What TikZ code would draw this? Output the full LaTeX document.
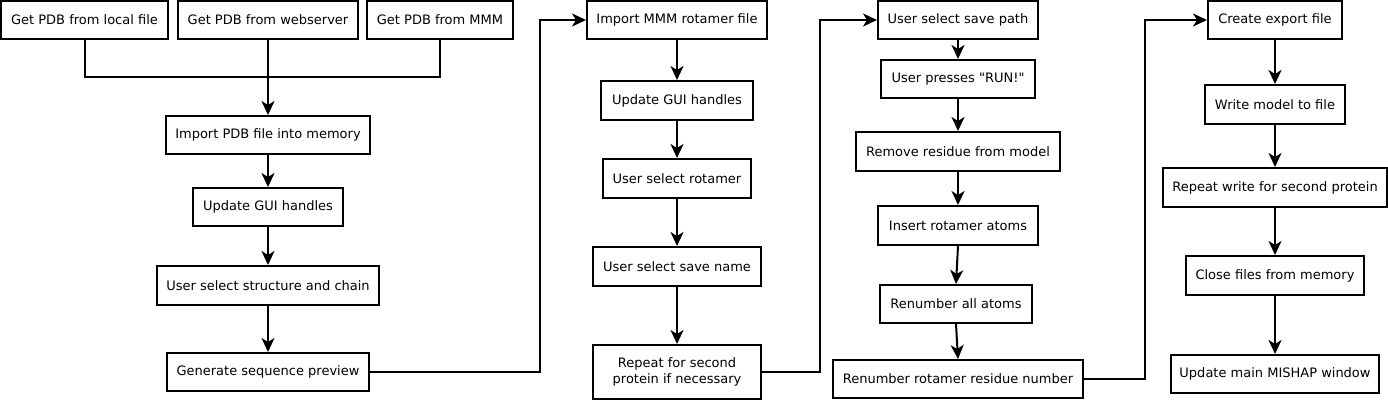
\documentclass[tikz,border=0pt]{standalone}
\usepackage{fontspec}
\setmainfont[Ligatures=TeXOff]{DejaVu Sans}
\usetikzlibrary{arrows.meta}
\begin{document}
\begin{tikzpicture}[x=1pt,y=-1pt,
  box/.style={draw,line width=2pt,fill=white,minimum height=38pt,inner sep=0pt,align=center,font=\fontsize{13}{15.5}\selectfont},
  conn/.style={line width=2pt},
  arr/.style={conn,-{Stealth[length=14pt,width=13pt,inset=4pt]}}]
\useasboundingbox (0,0) rectangle (1388,400);
% column 1
\node[box,minimum width=167pt] (src1) at (84.5,20) {Get PDB from local file};
\node[box,minimum width=180pt] (src2) at (268,20) {Get PDB from webserver};
\node[box,minimum width=146pt] (src3) at (440,20) {Get PDB from MMM};
\node[box,minimum width=204pt] (imp) at (268,135) {Import PDB file into memory};
\node[box,minimum width=150pt] (gui1) at (268,207) {Update GUI handles};
\node[box,minimum width=222pt,minimum height=39pt] (usc) at (268,285.5) {User select structure and chain};
\node[box,minimum width=202pt] (gen) at (268,372) {Generate sequence preview};
% column 2
\node[box,minimum width=180pt] (mmm) at (677,20) {Import MMM rotamer file};
\node[box,minimum width=152pt,minimum height=39pt] (gui2) at (677,100.5) {Update GUI handles};
\node[box,minimum width=148pt,minimum height=39pt] (rot) at (677,178.5) {User select rotamer};
\node[box,minimum width=168pt,minimum height=39pt] (sname) at (677,266.5) {User select save name};
\node[box,minimum width=168pt,minimum height=54pt] (rep) at (677,372) {Repeat for second\\protein if necessary};
% column 3
\node[box,minimum width=160pt] (path) at (958,20) {User select save path};
\node[box,minimum width=154pt] (run) at (958,79) {User presses "RUN!"};
\node[box,minimum width=204pt,minimum height=39pt] (rem) at (958,151.5) {Remove residue from model};
\node[box,minimum width=160pt,minimum height=39pt] (ins) at (958,225.5) {Insert rotamer atoms};
\node[box,minimum width=152pt] (ren) at (956,304) {Renumber all atoms};
\node[box,minimum width=250pt] (rrn) at (958,379) {Renumber rotamer residue number};
% column 4
\node[box,minimum width=134pt] (create) at (1275,20) {Create export file};
\node[box,minimum width=140pt,minimum height=39pt] (write) at (1275,104.5) {Write model to file};
\node[box,minimum width=224pt,minimum height=39pt] (rw) at (1275,187.5) {Repeat write for second protein};
\node[box,minimum width=178pt,minimum height=39pt] (close) at (1275,275.5) {Close files from memory};
\node[box,minimum width=208pt] (upd) at (1275,374) {Update main MISHAP window};
% junction and bends
\coordinate (j) at (268,77);
\coordinate (b1) at (540,372);
\coordinate (b2) at (820,372);
\coordinate (b3) at (1145,379);
% connectors column 1
\draw[conn] (src1.south) |- (j) -| (src3.south);
\draw[arr] (src2.south) -- (imp.north);
\draw[arr] (imp.south) -- (gui1.north);
\draw[arr] (gui1.south) -- (usc.north);
\draw[arr] (usc.south) -- (gen.north);
\draw[arr] (gen.east) -- (b1) |- (mmm.west);
% column 2
\draw[arr] (mmm.south) -- (gui2.north);
\draw[arr] (gui2.south) -- (rot.north);
\draw[arr] (rot.south) -- (sname.north);
\draw[arr] (sname.south) -- (rep.north);
\draw[arr] (rep.east) -- (b2) |- (path.west);
% column 3
\draw[arr] (path.south) -- (run.north);
\draw[arr] (run.south) -- (rem.north);
\draw[arr] (rem.south) -- (ins.north);
\draw[arr] (ins.south) -- (ren.north);
\draw[arr] (ren.south) -- (rrn.north);
\draw[arr] (rrn.east) -- (b3) |- (create.west);
% column 4
\draw[arr] (create.south) -- (write.north);
\draw[arr] (write.south) -- (rw.north);
\draw[arr] (rw.south) -- (close.north);
\draw[arr] (close.south) -- (upd.north);
\end{tikzpicture}
\end{document}
